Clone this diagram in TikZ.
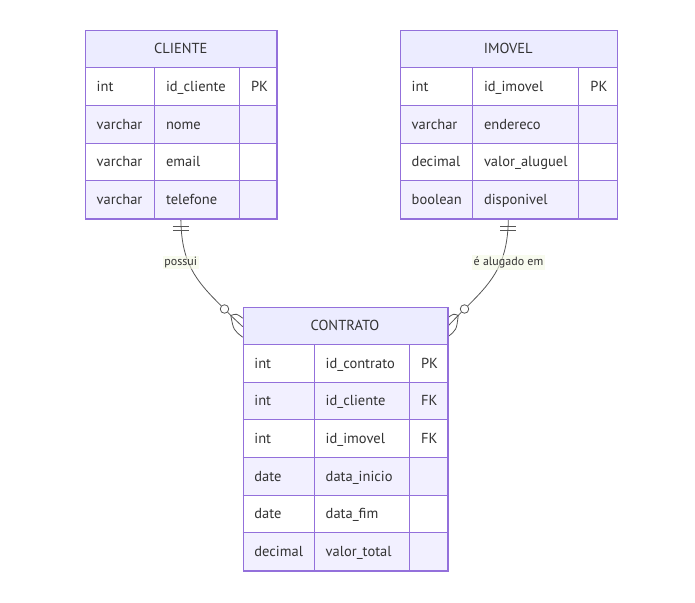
\documentclass[tikz,border=0pt]{standalone}
\usepackage{fontspec}
\setmainfont{PT Sans}
\usetikzlibrary{calc}
\definecolor{border}{HTML}{9370DB}
\definecolor{hdr}{HTML}{ECECFF}
\definecolor{rowb}{HTML}{F2F0FF}
\definecolor{txt}{HTML}{333333}
\definecolor{relc}{HTML}{555555}
\definecolor{lblbg}{HTML}{F4F8E4}
\tikzset{
  cell/.style={inner sep=0, text=txt, font=\fontsize{14.5}{17}\selectfont},
  grid/.style={draw=border, line width=1pt},
  entbox/.style={draw=border, line width=1.4pt, inner sep=0, fill=none},
  rel/.style={draw=relc, line width=0.8pt},
  lbl/.style={inner sep=1.5pt, text=txt, font=\fontsize{12}{14}\selectfont, fill=lblbg, fill opacity=0.6, text opacity=1},
  endcirc/.style={circle, draw=relc, line width=0.8pt, fill=white, minimum size=8.5pt, inner sep=0}
}
\newcommand\ertable[9]{%
  \path[fill=hdr] (#2,#6) rectangle (#5,#6+37.67);
  \node[cell, anchor=base] (#1-title) at ({(#2+#5)/2},{#6+18.8+5}) {#7};
  \foreach \ta/\na/\ka [count=\i] in {#9}{
    \pgfmathsetmacro\ya{#6+37.67*\i}
    \pgfmathsetmacro\yb{\ya+37.67}
    \ifodd\i\relax\def\rc{white}\else\def\rc{rowb}\fi
    \path[fill=\rc] (#2,\ya) rectangle (#5,\yb);
    \draw[grid] (#2,\ya) -- (#5,\ya);
    \draw[grid] (#3,\ya) -- (#3,\yb);
    \draw[grid] (#4,\ya) -- (#4,\yb);
    \node[cell, anchor=base west] (#1-t\i) at (#2+11.5,\ya+18.8+5) {\ta};
    \node[cell, anchor=base west] (#1-n\i) at (#3+11.5,\ya+18.8+5) {\na};
    \node[cell, anchor=base west] (#1-k\i) at (#4+11.5,\ya+18.8+5) {\ka};
  }
  \node[entbox, anchor=north west, minimum width={(#5-#2)*1pt}, minimum height={37.67*(#8+1)*1pt}] (#1) at (#2,#6) {};
}
\begin{document}
\begin{tikzpicture}[x=1pt,y=-1pt]
\useasboundingbox (0,0) rectangle (695,602);

% connectors (drawn first, boxes on top)
\coordinate (cs) at (180.85,217.7);
\coordinate (is) at (508.35,217.7);
\node[endcirc] (c1) at (224.5,309) {};
\node[endcirc] (c2) at (464.5,309) {};
\coordinate (a1) at (230.8,315.5);
\coordinate (a2) at (458.2,315.5);
\coordinate (cnw) at (242.7,306.7);
\coordinate (cne) at (447.3,306.7);

\draw[rel] (cs) .. controls (181,262) and (195,280) .. (c1);
\draw[rel] (is) .. controls (508,262) and (494,280) .. (c2);
\draw[rel] ($(cs)+(-8,9)$) -- ($(cs)+(8,9)$);
\draw[rel] ($(cs)+(-8,13)$) -- ($(cs)+(8,13)$);
\draw[rel] ($(is)+(-8,9)$) -- ($(is)+(8,9)$);
\draw[rel] ($(is)+(-8,13)$) -- ($(is)+(8,13)$);

\draw[rel] (c1) -- (a1);
\draw[rel] (a1) -- ($(cnw)+(0,20)$);
\draw[rel] (a1) .. controls (236.5,313.5) .. ($(cnw)+(0,11.5)$);
\draw[rel] (a1) .. controls (233.5,330) .. ($(cnw)+(0,30.5)$);
\draw[rel] (c2) -- (a2);
\draw[rel] (a2) -- ($(cne)+(0,20)$);
\draw[rel] (a2) .. controls (453.5,313.5) .. ($(cne)+(0,11.5)$);
\draw[rel] (a2) .. controls (456.5,330) .. ($(cne)+(0,30.5)$);

\node[lbl] (l1) at (180.7,262.5) {possui};
\node[lbl] (l2) at (508.5,262.5) {é alugado em};

\ertable{cliente}{85}{154.3}{239.3}{276.4}{30}{CLIENTE}{4}{int/id\_cliente/PK, varchar/nome/, varchar/email/, varchar/telefone/}
\ertable{imovel}{400}{472.3}{578.7}{616.7}{30}{IMOVEL}{4}{int/id\_imovel/PK, varchar/endereco/, decimal/valor\_aluguel/, boolean/disponivel/}
\ertable{contrato}{242.7}{314}{409.3}{447.3}{306.7}{CONTRATO}{6}{int/id\_contrato/PK, int/id\_cliente/FK, int/id\_imovel/FK, date/data\_inicio/, date/data\_fim/, decimal/valor\_total/}
\end{tikzpicture}
\end{document}
